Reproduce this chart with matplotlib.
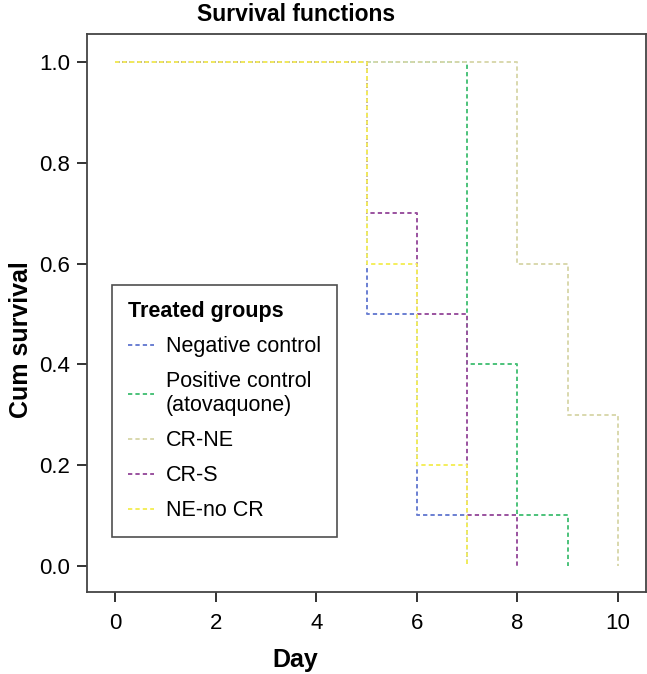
import matplotlib
matplotlib.use('Agg')
import matplotlib.pyplot as plt

plt.rcParams['font.family'] = ['Liberation Sans', 'DejaVu Sans']

# Kaplan-Meier step data
groups = ['Negative control', 'Positive control\n(atovaquone)', 'CR-NE', 'CR-S', 'NE-no CR']
days_neg = [0, 5, 6, 7]
surv_neg = [1.0, 0.5, 0.1, 0.0]
days_pos = [0, 7, 8, 9]
surv_pos = [1.0, 0.4, 0.1, 0.0]
days_crne = [0, 8, 9, 10]
surv_crne = [1.0, 0.6, 0.3, 0.0]
days_crs = [0, 5, 6, 7, 8]
surv_crs = [1.0, 0.7, 0.5, 0.1, 0.0]
days_ne = [0, 5, 6, 7]
surv_ne = [1.0, 0.6, 0.2, 0.0]

colors = ['#6a7fd2', '#4cc27a', '#d9d8ad', '#9a529f', '#f4ee5c']
all_days = [days_neg, days_pos, days_crne, days_crs, days_ne]
all_surv = [surv_neg, surv_pos, surv_crne, surv_crs, surv_ne]

fig = plt.figure(figsize=(6.47, 6.74), dpi=100)
ax = fig.add_axes([87/647, 82/674, 559/647, 558/674])

for d, s, c, g in zip(all_days, all_surv, colors, groups):
    ax.step(d, s, where='post', color=c, lw=1.4, ls=(0, (2.2, 1.6)), label=g)

ax.set_xlim(-0.56, 10.56)
ax.set_ylim(-0.052, 1.056)
ax.set_xticks([0, 2, 4, 6, 8, 10])
ax.set_yticks([0.0, 0.2, 0.4, 0.6, 0.8, 1.0])
ax.set_yticklabels(['0.0', '0.2', '0.4', '0.6', '0.8', '1.0'])
ax.tick_params(direction='out', length=7, width=1.3, labelsize=16, pad=5, color='#222222')
ax.tick_params(axis='x', pad=8)
for sp in ax.spines.values():
    sp.set_linewidth(1.3)
    sp.set_color('#444444')

ax.set_xlabel('Day', fontsize=18, fontweight='bold')
ax.xaxis.set_label_coords((295 - 87) / 559, -0.1)
ax.set_ylabel('Cum survival', fontsize=18, fontweight='bold')
ax.yaxis.set_label_coords((33 - 87) / 559, 0.452)

fig.text(296/647, 1 - 21/674, 'Survival functions', ha='center', va='baseline',
         fontsize=16.5, fontweight='bold')

leg = ax.legend(title='Treated groups', loc='upper left',
                bbox_to_anchor=((112 - 87) / 559, (592 - 285) / 558),
                fontsize=15.5, title_fontproperties={'weight': 'bold', 'size': 15.5},
                frameon=True, fancybox=False, edgecolor='#222222',
                handlelength=1.2, handletextpad=0.55, borderpad=0.75,
                labelspacing=0.65, borderaxespad=0)
leg._legend_box.align = 'left'
leg.get_frame().set_linewidth(1.2)

fig.savefig('out.png', dpi=100)
